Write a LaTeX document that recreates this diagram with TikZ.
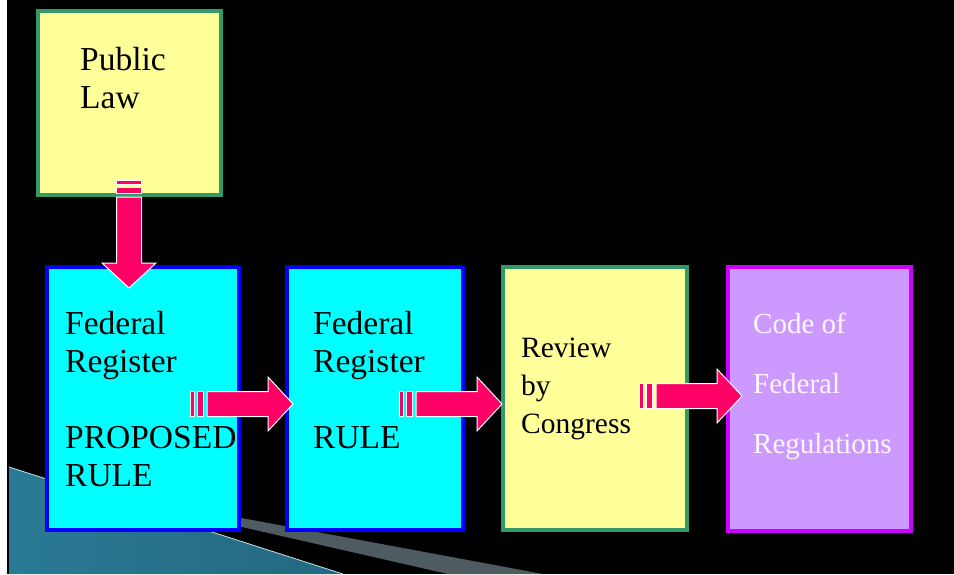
\documentclass[tikz,border=0pt]{standalone}
\usepackage{fontspec}
\setmainfont{Liberation Serif}
\newfontfamily\slidefont{Liberation Serif}
\definecolor{lawyellow}{HTML}{FFFF99}
\definecolor{lawgreen}{HTML}{339966}
\definecolor{regcyan}{HTML}{00FFFF}
\definecolor{regblue}{HTML}{0000FF}
\definecolor{cfrfill}{HTML}{CC99FF}
\definecolor{cfrborder}{HTML}{CC00FF}
\definecolor{arrowpink}{HTML}{FF0066}
\definecolor{bandgray}{HTML}{4E5C62}
\definecolor{tealdark}{HTML}{2A7A95}
\definecolor{teallight}{HTML}{6AB4D0}
\definecolor{cfrtext}{HTML}{FFF8FF}
\tikzset{
  box/.style={draw, line width=4pt, inner sep=0pt, rectangle},
  lawbox/.style={box, fill=lawyellow, draw=lawgreen},
  regbox/.style={box, fill=regcyan, draw=regblue},
  cfrbox/.style={box, fill=cfrfill, draw=cfrborder},
  txt/.style={anchor=base west, inner sep=0pt, text=black,
    font=\slidefont\fontsize{33.5}{38}\selectfont},
  txtsmall/.style={txt, font=\slidefont\fontsize{29.5}{38}\selectfont},
  txtcfr/.style={txt, text=cfrtext, font=\slidefont\fontsize{29}{60}\selectfont},
  arrowshape/.style={fill=arrowpink, draw=white, line width=1pt, line join=miter},
  pics/stripearrow/.style={code={
    \path[arrowshape] (0,-12.5) rectangle (4,12.5);
    \path[arrowshape] (7,-12.5) rectangle (13,12.5);
    \path[arrowshape] (17,-12.5) -- ({#1-25},-12.5) -- ({#1-25},-27) -- (#1,0)
       -- ({#1-25},27) -- ({#1-25},12.5) -- (17,12.5) -- cycle;
  }}
}
\begin{document}
\begin{tikzpicture}[x=1pt,y=-1pt]
\fill[white] (0,0) rectangle (954,574);
\fill[black] (7,0) rectangle (954,574);
\useasboundingbox (0,0) rectangle (954,574);
% background decoration
\fill[bandgray] (150,501) -- (543,574) -- (448,574) -- (150,506) -- cycle;
\shade[left color=tealdark, middle color=teallight, right color=tealdark!85!black]
  (9,467) -- (343,574) -- (9,574) -- cycle;
\draw[white!60!teallight, line width=0.8pt] (9,467) -- (343,574);
% boxes
\node[lawbox, minimum width=183pt, minimum height=184pt] (law) at (129.5,103) {};
\node[regbox, minimum width=192pt, minimum height=263pt] (prop) at (143,398.5) {};
\node[regbox, minimum width=176pt, minimum height=263pt] (rule) at (375,398.5) {};
\node[lawbox, minimum width=184pt, minimum height=263pt] (review) at (595,398.5) {};
\node[cfrbox, minimum width=183pt, minimum height=264pt] (cfr) at (819.5,399) {};
% texts
\node[txt] (tlaw) at (80,70) {\vtop{\hbox{Public}\hbox{Law}}};
\node[txt] (tprop) at (65,334) {\vtop{\hbox{Federal}\hbox{Register}\vskip38pt\hbox{PROPOSED}\hbox{RULE}}};
\node[txt] (trule) at (313,334) {\vtop{\hbox{Federal}\hbox{Register}\vskip38pt\hbox{RULE}}};
\node[txtsmall] (treview) at (521,357) {\vtop{\hbox{Review}\hbox{by}\hbox{Congress}}};
\node[txtcfr] (tcfr) at (753,333) {\vtop{\hbox{Code of}\hbox{Federal}\hbox{Regulations}}};
% arrows
\pic[rotate=-90] at (129,180) {stripearrow=108};
\pic at (190,404) {stripearrow=103};
\pic at (399,404) {stripearrow=103};
\pic at (639,396) {stripearrow=103};
\end{tikzpicture}
\end{document}
